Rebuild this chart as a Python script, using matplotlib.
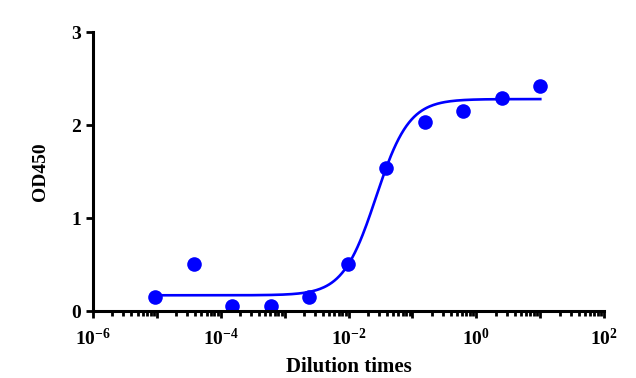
import numpy as np
import matplotlib
matplotlib.use("Agg")
import matplotlib.pyplot as plt
from matplotlib.ticker import LogLocator, FuncFormatter, NullFormatter

# data
dilution = [9.5e-6, 3.8e-5, 1.53e-4, 6.1e-4, 2.44e-3, 9.77e-3, 0.039, 0.156, 0.625, 2.5, 10.0]
od450 = [0.15, 0.505, 0.05, 0.055, 0.15, 0.505, 1.54, 2.03, 2.15, 2.29, 2.42]

# 4PL fit parameters (estimated from the curve)
bottom = 0.17
top = 2.28
log_ec50 = -1.57
hill = 1.68

plt.rcParams['font.family'] = ['Liberation Serif', 'DejaVu Serif']
plt.rcParams['font.weight'] = 'bold'
plt.rcParams['mathtext.fontset'] = 'custom'
plt.rcParams['mathtext.rm'] = 'Liberation Serif:bold'
plt.rcParams['mathtext.bf'] = 'Liberation Serif:bold'

fig = plt.figure(figsize=(6.36, 3.78), dpi=100)
ax = fig.add_axes([0.146, 0.177, 0.804, 0.738])

xs = np.logspace(np.log10(dilution[0]), np.log10(dilution[-1]), 300)
ys = bottom + (top - bottom) / (1 + 10 ** ((log_ec50 - np.log10(xs)) * hill))
ax.plot(xs, ys, color='#0000ff', lw=1.9)
ax.plot(dilution, od450, 'o', color='#0000ff', ms=10.5, mec='none')

ax.set_xscale('log')
ax.set_xlim(1e-6, 1e2)
ax.set_ylim(0, 3)
ax.set_yticks([0, 1, 2, 3])

ax.xaxis.set_major_locator(LogLocator(base=10, numticks=20))
ax.xaxis.set_minor_locator(LogLocator(base=10, subs=np.arange(2, 10), numticks=20))
def fmt(v, pos):
    e = int(round(np.log10(v)))
    if e % 2 != 0:
        return ''
    return r'$\mathbf{10^{%d}}$' % e
ax.xaxis.set_major_formatter(FuncFormatter(fmt))
ax.xaxis.set_minor_formatter(NullFormatter())

for s in ['top', 'right']:
    ax.spines[s].set_visible(False)
for s in ['left', 'bottom']:
    ax.spines[s].set_linewidth(2.2)
ax.tick_params(axis='both', which='major', width=2, length=5, labelsize=14)
ax.tick_params(axis='x', which='major', pad=7)
ax.tick_params(axis='x', which='minor', width=2, length=3.5)
for lbl in ax.get_yticklabels():
    lbl.set_fontweight('bold')

ax.set_xlabel('Dilution times', fontsize=15, fontweight='bold', labelpad=6)
ax.set_ylabel('OD450', fontsize=14, fontweight='bold', labelpad=16)

fig.savefig('out.png', dpi=100)
